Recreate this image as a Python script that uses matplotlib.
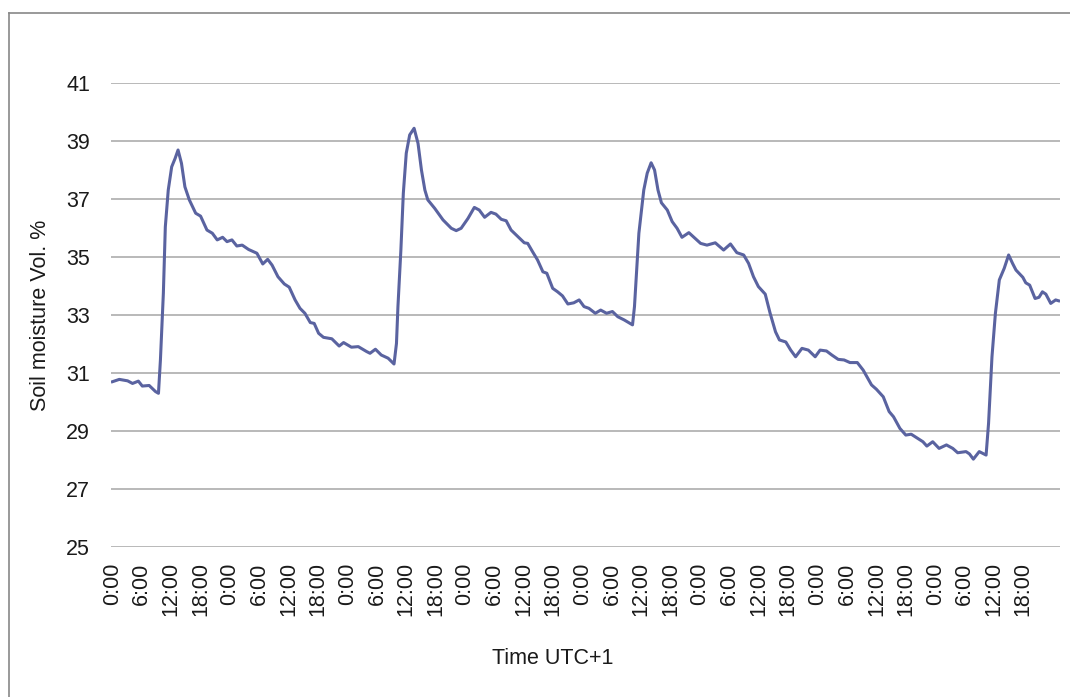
import matplotlib.pyplot as plt
from matplotlib.lines import Line2D

# Digitized soil moisture readings: hours since start, volumetric %.
hours = [0, 1.4, 3.1, 4.1, 5.3, 6.1, 7.5, 8.8, 9.4, 9.8, 10.4, 10.8, 11.4, 12.1,
         12.8, 13.4, 14.1, 14.8, 15.7, 17.0, 18.0, 19.3, 20.4, 21.4, 22.5, 23.4,
         24.4, 25.4, 26.5, 27.8, 29.5, 30.7, 31.7, 32.6, 33.8, 35.1, 36.1, 37.3,
         38.3, 39.3, 40.4, 41.2, 42.1, 43.1, 44.8, 46.3, 47.2, 48.8, 50.2, 51.9,
         52.6, 53.7, 54.9, 56.3, 57.5, 58.0, 58.3, 58.9, 59.4, 60.0, 60.7, 61.6,
         62.4, 63.1, 63.8, 64.4, 65.8, 67.5, 69.2, 70.2, 71.2, 72.6, 73.9, 74.9,
         76.0, 77.3, 78.3, 79.4, 80.4, 81.4, 82.8, 84.1, 84.8, 85.8, 86.8, 87.9,
         88.7, 89.9, 90.9, 91.9, 93.0, 94.2, 95.3, 96.3, 97.3, 98.6, 99.7, 100.9,
         102.1, 103.2, 104.5, 105.1, 106.2, 106.6, 107.5, 108.5, 109.2, 110.0,
         110.7, 111.4, 112.1, 113.3, 114.3, 115.3, 116.3, 117.7, 119.0, 120.1,
         121.4, 123.1, 124.8, 126.2, 127.5, 128.9, 129.9, 130.9, 131.9, 133.3,
         134.3, 135.4, 136.2, 137.5, 138.5, 139.5, 140.8, 142.1, 143.5, 144.5,
         145.8, 146.9, 148.2, 149.4, 150.6, 152.1, 153.3, 155.0, 156.0, 157.4,
         158.6, 159.5, 160.8, 162.0, 163.1, 164.2, 165.5, 166.3, 167.5, 168.8,
         170.3, 171.6, 172.6, 174.3, 175.0, 175.8, 177.0, 178.4, 178.9, 179.6,
         180.3, 181.1, 182.1, 183.0, 183.8, 184.5, 185.9, 186.5, 187.3, 188.4,
         189.2, 189.9, 190.6, 191.6, 192.6, 193.2]
moisture = [30.70, 30.78, 30.73, 30.64, 30.72, 30.55, 30.57, 30.36, 30.30, 31.45,
            33.75, 36.04, 37.31, 38.11, 38.40, 38.69, 38.23, 37.42, 36.97, 36.51,
            36.41, 35.93, 35.82, 35.59, 35.68, 35.53, 35.59, 35.38, 35.41, 35.26,
            35.13, 34.76, 34.92, 34.72, 34.32, 34.07, 33.96, 33.52, 33.23, 33.06,
            32.74, 32.71, 32.37, 32.23, 32.18, 31.93, 32.05, 31.89, 31.91, 31.74,
            31.68, 31.82, 31.62, 31.51, 31.31, 32.02, 33.29, 35.24, 37.20, 38.58,
            39.21, 39.44, 38.92, 38.00, 37.31, 36.97, 36.68, 36.28, 35.99, 35.91,
            35.99, 36.33, 36.71, 36.62, 36.37, 36.54, 36.48, 36.30, 36.25, 35.93,
            35.70, 35.49, 35.47, 35.18, 34.90, 34.49, 34.44, 33.92, 33.80, 33.66,
            33.38, 33.42, 33.52, 33.29, 33.23, 33.06, 33.17, 33.06, 33.12, 32.94,
            32.83, 32.77, 32.66, 33.29, 35.82, 37.31, 37.89, 38.25, 38.00, 37.31,
            36.87, 36.62, 36.22, 35.99, 35.68, 35.84, 35.64, 35.47, 35.41, 35.49,
            35.24, 35.45, 35.15, 35.07, 34.78, 34.32, 33.98, 33.72, 33.06, 32.42,
            32.14, 32.07, 31.79, 31.56, 31.85, 31.79, 31.56, 31.79, 31.76, 31.62,
            31.47, 31.45, 31.36, 31.36, 31.10, 30.59, 30.44, 30.18, 29.67, 29.49,
            29.09, 28.86, 28.89, 28.77, 28.63, 28.48, 28.63, 28.40, 28.52, 28.40,
            28.25, 28.29, 28.21, 28.03, 28.29, 28.17, 29.26, 31.56, 33.06, 34.21,
            34.61, 35.07, 34.78, 34.55, 34.30, 34.11, 34.03, 33.57, 33.61, 33.80,
            33.72, 33.40, 33.52, 33.49]

tick_hours = list(range(0, 192, 6))
tick_labels = ["0:00", "6:00", "12:00", "18:00"] * 8
y_ticks = [25, 27, 29, 31, 33, 35, 37, 39, 41]

plt.rcParams['font.family'] = ['Liberation Sans', 'DejaVu Sans']

fig = plt.figure(figsize=(10.7, 6.97), dpi=100)
ax = fig.add_axes([0.1037, 0.2152, 0.887, 0.6657])

ax.plot(hours, moisture, color='#5A63A0', lw=2.2, solid_joinstyle='round')

ax.set_xlim(-0.3, 193.5)
ax.set_ylim(25, 41)
ax.set_yticks(y_ticks)
ax.set_xticks(tick_hours)
ax.set_xticklabels(tick_labels, rotation=90)
ax.tick_params(axis='both', length=0, labelsize=15.5, colors='#1a1a1a')
ax.tick_params(axis='x', pad=11)
ax.tick_params(axis='y', pad=15)
ax.yaxis.grid(True, color='#A6A6A6', lw=1.1)
ax.set_axisbelow(True)
for s in ax.spines.values():
    s.set_visible(False)

ax.set_ylabel("Soil moisture Vol. %", fontsize=15.5, labelpad=11, color='#1a1a1a')
fig.text(553 / 1070, 1 - 658 / 697, "Time UTC+1", fontsize=15.5,
         ha='center', va='center', color='#1a1a1a')

# outer frame (top and left edges only visible in the crop)
fig.add_artist(Line2D([9 / 1070, 9 / 1070], [0, 1 - 12.5 / 697],
                      color='#888888', lw=1.2))
fig.add_artist(Line2D([9 / 1070, 1], [1 - 12.5 / 697, 1 - 12.5 / 697],
                      color='#888888', lw=1.2))

fig.savefig("out.png", dpi=100)
